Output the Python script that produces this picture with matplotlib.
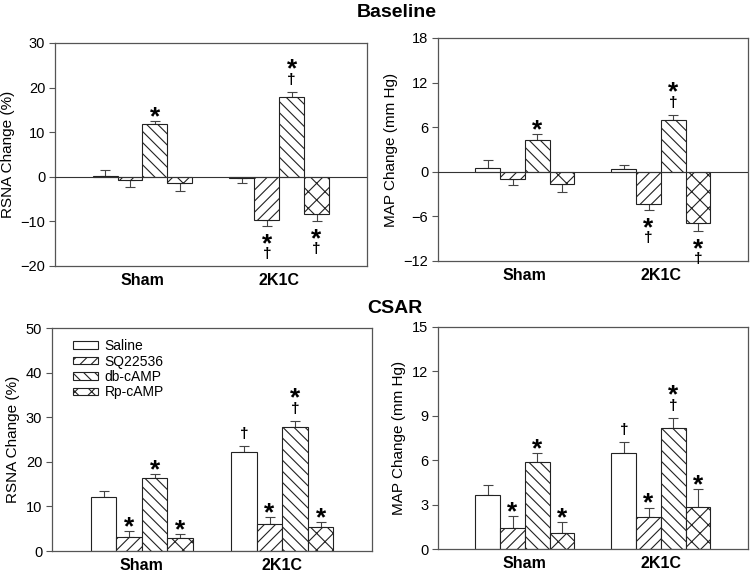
import matplotlib
matplotlib.use("Agg")
import matplotlib.pyplot as plt
import numpy as np
from matplotlib.font_manager import FontProperties
from matplotlib.patches import Patch
from matplotlib.textpath import TextPath

plt.rcParams["font.family"] = ["Liberation Sans", "DejaVu Sans"]
plt.rcParams["hatch.linewidth"] = 0.8
plt.rcParams["hatch.color"] = "#1a1a1a"

groups = ["Sham", "2K1C"]
treatments = ["Saline", "SQ22536", "db-cAMP", "Rp-cAMP"]

# rows = groups (Sham, 2K1C), cols = treatments
base_rsna = [[0.1, -0.8, 11.8, -1.5], [-0.2, -9.6, 17.9, -8.3]]
base_rsna_err = [[1.4, 1.45, 0.8, 1.6], [1.2, 1.4, 1.1, 1.7]]
base_rsna_sig = [["", "", "*", ""], ["", "*†", "*†", "*†"]]

base_map = [[0.55, -1.0, 4.3, -1.6], [0.35, -4.4, 7.0, -6.85]]
base_map_err = [[1.1, 0.8, 0.8, 1.1], [0.55, 0.7, 0.6, 1.1]]
base_map_sig = [["", "", "*", ""], ["", "*†", "*†", "*†"]]

csar_rsna = [[12.2, 3.2, 16.3, 2.9], [22.1, 6.1, 27.7, 5.4]]
csar_rsna_err = [[1.2, 1.2, 1.0, 1.0], [1.5, 1.5, 1.5, 1.0]]
csar_rsna_sig = [["", "*", "*", "*"], ["†", "*", "*†", "*"]]

csar_map = [[3.65, 1.45, 5.9, 1.1], [6.5, 2.15, 8.2, 2.85]]
csar_map_err = [[0.65, 0.75, 0.55, 0.7], [0.75, 0.65, 0.65, 1.2]]
csar_map_sig = [["", "*", "*", "*"], ["†", "*", "*†", "*"]]

hatches = ["", "///", "\\\\\\", "xx"]
edge = "#222222"
spine_col = "#555555"
bar_w = 0.182
PX = 0.72  # points per pixel at dpi 100

star_fp = FontProperties(family="Liberation Sans", weight="bold", size=19)
dag_fp = FontProperties(family="Liberation Sans", weight="bold", size=11)


def glyph_center(sym):
    fp = star_fp if sym == "*" else dag_fp
    ext = TextPath((0, 0), sym, prop=fp).get_extents()
    return (ext.y0 + ext.y1) / 2, fp


def place_marks(ax, x, end, up, marks):
    if not marks:
        return
    if up:
        order = [("†", 13), ("*", 29)] if marks == "*†" else [(marks, 10 if marks == "*" else 13)]
        sign = 1
    else:
        order = [("*", 12), ("†", 27)] if marks == "*†" else [(marks, 12)]
        sign = -1
    for sym, dist in order:
        c, fp = glyph_center(sym)
        ax.annotate(sym, xy=(x, end), xytext=(0, sign * dist * PX - c),
                    textcoords="offset points", ha="center", va="baseline",
                    fontproperties=fp, color="black")


def panel(rect, means, errs, sigs, ylim, yticks, ylabel, zero_line):
    ax = fig.add_axes(rect)
    means = np.array(means)
    errs = np.array(errs)
    xc = np.arange(len(groups))
    for j, t in enumerate(treatments):
        xs = xc + (j - 1.5) * bar_w
        ax.bar(xs, means[:, j], width=bar_w, color="white", edgecolor=edge,
               linewidth=0.8, hatch=hatches[j], zorder=2)
        for i in range(len(groups)):
            m, e = means[i, j], errs[i, j]
            up = m >= 0
            yerr = [[0], [e]] if up else [[e], [0]]
            ax.errorbar(xs[i], m, yerr=yerr, fmt="none", ecolor="#444444",
                        elinewidth=0.8, capsize=3.5, capthick=0.8, zorder=1)
            place_marks(ax, xs[i], m + e if up else m - e, up, sigs[i][j])
    if zero_line:
        ax.axhline(0, color="#333333", linewidth=0.8, zorder=3)
    ax.set_xlim(-0.64, 1.64)
    ax.set_ylim(*ylim)
    ax.set_yticks(yticks)
    ax.set_xticks(xc)
    ax.set_xticklabels(groups, fontsize=11.5, fontweight="bold")
    ax.tick_params(axis="x", length=0, pad=5)
    ax.tick_params(axis="y", direction="out", length=4, width=0.8,
                   color=spine_col, labelsize=10.5, pad=3)
    ax.set_ylabel(ylabel, fontsize=11, labelpad=4)
    for s in ax.spines.values():
        s.set_color(spine_col)
        s.set_linewidth(0.9)
    return ax


fig = plt.figure(figsize=(7.55, 5.77), dpi=100)

panel([0.0728, 0.539, 0.413, 0.3865], base_rsna, base_rsna_err, base_rsna_sig,
      (-20, 30), range(-20, 31, 10), "RSNA Change (%)", True)
panel([0.580, 0.5477, 0.4106, 0.3865], base_map, base_map_err, base_map_sig,
      (-12, 18), range(-12, 19, 6), "MAP Change (mm Hg)", True)
ax3 = panel([0.0689, 0.045, 0.424, 0.3865], csar_rsna, csar_rsna_err, csar_rsna_sig,
            (0, 50), range(0, 51, 10), "RSNA Change (%)", False)
panel([0.580, 0.0485, 0.4106, 0.385], csar_map, csar_map_err, csar_map_sig,
      (0, 15), range(0, 16, 3), "MAP Change (mm Hg)", False)

handles = [Patch(facecolor="white", edgecolor=edge, linewidth=0.8, hatch=h)
           for h in hatches]
ax3.legend(handles, treatments, loc="upper left", bbox_to_anchor=(0.066, 0.95),
           frameon=False, fontsize=10, handlelength=1.8, handleheight=0.45,
           handletextpad=0.45, labelspacing=0.1, borderpad=0, borderaxespad=0)

fig.text(0.526, 0.979, "Baseline", ha="center", va="center",
         fontsize=14, fontweight="bold")
fig.text(0.523, 0.466, "CSAR", ha="center", va="center",
         fontsize=14, fontweight="bold")

fig.savefig("out.png", dpi=100)
